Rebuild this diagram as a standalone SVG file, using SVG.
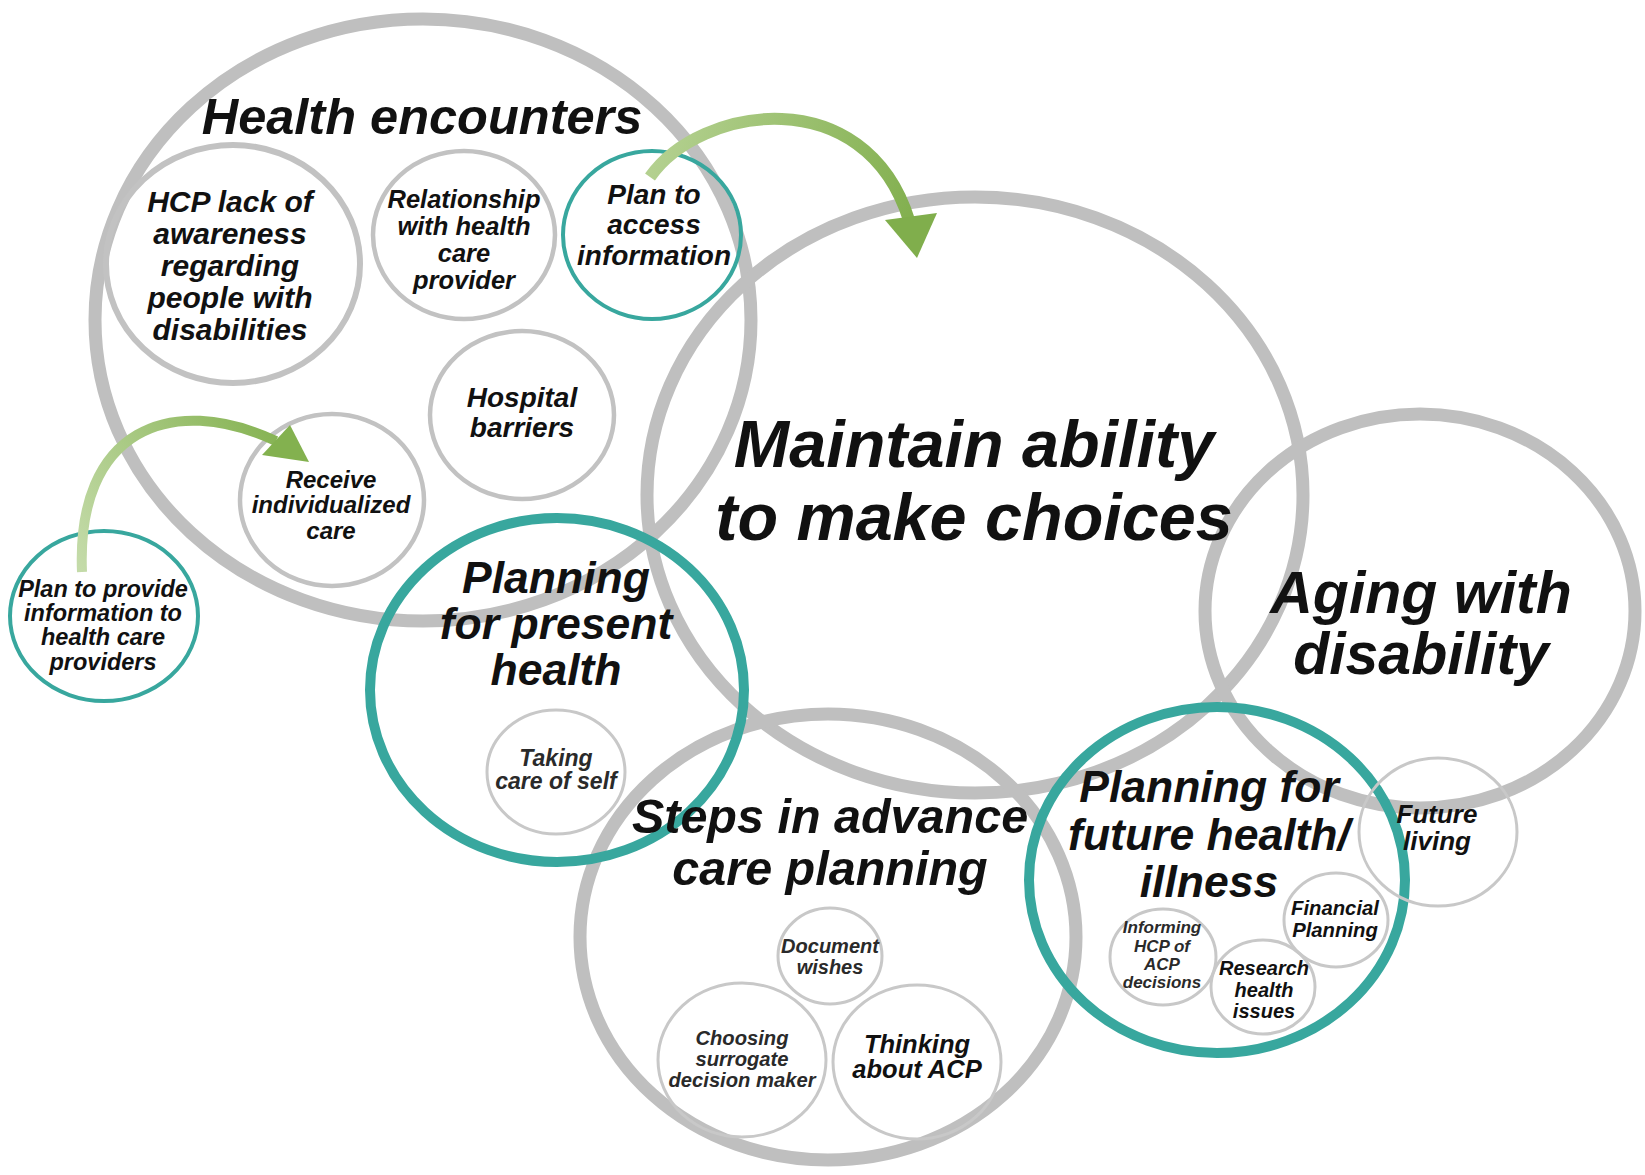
<svg xmlns="http://www.w3.org/2000/svg" width="1645" height="1175" viewBox="0 0 1645 1175">
<defs>
<style>
.big{fill:none;stroke:#bfbfbf;stroke-width:13}
.tealbig{fill:none;stroke:#38a79e;stroke-width:10}
.tealsm{fill:none;stroke:#38a79e;stroke-width:4}
.mid{fill:none;stroke:#c2c2c2;stroke-width:4.5}
.sm{fill:none;stroke:#c8c8c8;stroke-width:3}
text{font-family:"Liberation Sans",Arial,sans-serif;font-weight:bold;font-style:italic;text-anchor:middle;fill:#111}
.dim{fill:#2a2a2a}
</style>
<linearGradient id="g1" gradientUnits="userSpaceOnUse" x1="650" y1="177" x2="915" y2="250">
<stop offset="0" stop-color="#b3d08f"/><stop offset="1" stop-color="#80ae4c"/>
</linearGradient>
<linearGradient id="g2" gradientUnits="userSpaceOnUse" x1="82" y1="572" x2="300" y2="450">
<stop offset="0" stop-color="#c4dba9"/><stop offset="1" stop-color="#83b14f"/>
</linearGradient>
</defs>
<rect width="1645" height="1175" fill="#ffffff"/>

<g id="health-encounters"><ellipse class="big" cx="423" cy="320" rx="328" ry="301"/></g>
<g id="maintain-ability"><ellipse class="big" cx="975" cy="495" rx="328" ry="298"/></g>
<g id="aging-with-disability"><ellipse class="big" cx="1420" cy="611" rx="215" ry="197"/></g>
<g id="steps-acp"><ellipse class="big" cx="828" cy="937" rx="248" ry="223"/></g>
<g id="planning-present"><ellipse class="tealbig" cx="557" cy="690" rx="187" ry="172"/></g>
<g id="planning-future"><ellipse class="tealbig" cx="1217" cy="880" rx="188" ry="173"/></g>

<g id="hcp-lack"><ellipse class="mid" cx="233" cy="264" rx="127" ry="119" style="stroke-width:6"/></g>
<g id="relationship"><ellipse class="mid" cx="464" cy="235" rx="91" ry="84"/></g>
<g id="plan-access"><ellipse class="tealsm" cx="652" cy="235" rx="89" ry="84"/></g>
<g id="hospital-barriers"><ellipse class="mid" cx="522" cy="415" rx="92" ry="84"/></g>
<g id="receive-care"><ellipse class="mid" cx="332" cy="500" rx="92" ry="86"/></g>
<g id="plan-provide"><ellipse class="tealsm" cx="104" cy="616" rx="94" ry="85"/></g>
<g id="taking-care"><ellipse class="sm" cx="556" cy="772" rx="69" ry="62"/></g>
<g id="document-wishes"><ellipse class="sm" cx="830" cy="956" rx="52" ry="48"/></g>
<g id="choosing-surrogate"><ellipse class="sm" cx="742" cy="1060" rx="84" ry="77"/></g>
<g id="thinking-acp"><ellipse class="sm" cx="917" cy="1062" rx="84" ry="77"/></g>
<g id="future-living"><ellipse class="sm" cx="1438" cy="832" rx="79" ry="74"/></g>
<g id="financial-planning"><ellipse class="sm" cx="1336" cy="920" rx="52" ry="47"/></g>
<g id="informing-hcp"><ellipse class="sm" cx="1163" cy="957" rx="53" ry="48"/></g>
<g id="research-health"><ellipse class="sm" cx="1263" cy="987" rx="52" ry="47"/></g>

<g id="connectors">
<path d="M 650 177 C 700 105, 865 80, 909 220" fill="none" stroke="url(#g1)" stroke-width="12"/>
<polygon points="885,220 937,213 917,258" fill="#80ae4c"/>
<path d="M 82 572 C 76 430, 170 392, 276 441" fill="none" stroke="url(#g2)" stroke-width="10"/>
<polygon points="290,425 262,455 309,462" fill="#83b14f"/>
</g>

<g id="labels">
<text x="422" y="134" font-size="50.5">Health encounters</text>
<text font-size="30"><tspan x="230" y="212">HCP lack of</tspan><tspan x="230" y="244">awareness</tspan><tspan x="230" y="276">regarding</tspan><tspan x="230" y="308">people with</tspan><tspan x="230" y="340">disabilities</tspan></text>
<text font-size="25.5"><tspan x="464" y="208">Relationship</tspan><tspan x="464" y="235">with health</tspan><tspan x="464" y="262">care</tspan><tspan x="464" y="289">provider</tspan></text>
<text font-size="28"><tspan x="654" y="204">Plan to</tspan><tspan x="654" y="234">access</tspan><tspan x="654" y="265">information</tspan></text>
<text font-size="28"><tspan x="522" y="407">Hospital</tspan><tspan x="522" y="437">barriers</tspan></text>
<text font-size="24"><tspan x="331" y="488">Receive</tspan><tspan x="331" y="513">individualized</tspan><tspan x="331" y="539">care</tspan></text>
<text font-size="23.5"><tspan x="103" y="597">Plan to provide</tspan><tspan x="103" y="621">information to</tspan><tspan x="103" y="645">health care</tspan><tspan x="103" y="670">providers</tspan></text>
<text font-size="66.5"><tspan x="974" y="467">Maintain ability</tspan><tspan x="974" y="540">to make choices</tspan></text>
<text font-size="59"><tspan x="1421" y="613">Aging with</tspan><tspan x="1421" y="674">disability</tspan></text>
<text font-size="44.5"><tspan x="556" y="593">Planning</tspan><tspan x="556" y="639">for present</tspan><tspan x="556" y="685">health</tspan></text>
<text font-size="23" class="dim"><tspan x="556" y="766">Taking</tspan><tspan x="556" y="789">care of self</tspan></text>
<text font-size="48.5"><tspan x="830" y="833">Steps in advance</tspan><tspan x="830" y="885">care planning</tspan></text>
<text font-size="20" class="dim"><tspan x="830" y="953">Document</tspan><tspan x="830" y="974">wishes</tspan></text>
<text font-size="20.2" class="dim"><tspan x="742" y="1045">Choosing</tspan><tspan x="742" y="1066">surrogate</tspan><tspan x="742" y="1087">decision maker</tspan></text>
<text font-size="25.5"><tspan x="917" y="1053">Thinking</tspan><tspan x="917" y="1078">about ACP</tspan></text>
<text font-size="44.5"><tspan x="1209" y="802">Planning for</tspan><tspan x="1209" y="850">future health/</tspan><tspan x="1209" y="897">illness</tspan></text>
<text font-size="26"><tspan x="1437" y="823">Future</tspan><tspan x="1437" y="850">living</tspan></text>
<text font-size="20.3"><tspan x="1335" y="915">Financial</tspan><tspan x="1335" y="937">Planning</tspan></text>
<text font-size="17" class="dim"><tspan x="1162" y="933">Informing</tspan><tspan x="1162" y="952">HCP of</tspan><tspan x="1162" y="970">ACP</tspan><tspan x="1162" y="988">decisions</tspan></text>
<text font-size="20"><tspan x="1264" y="975">Research</tspan><tspan x="1264" y="997">health</tspan><tspan x="1264" y="1018">issues</tspan></text>
</g>
</svg>
